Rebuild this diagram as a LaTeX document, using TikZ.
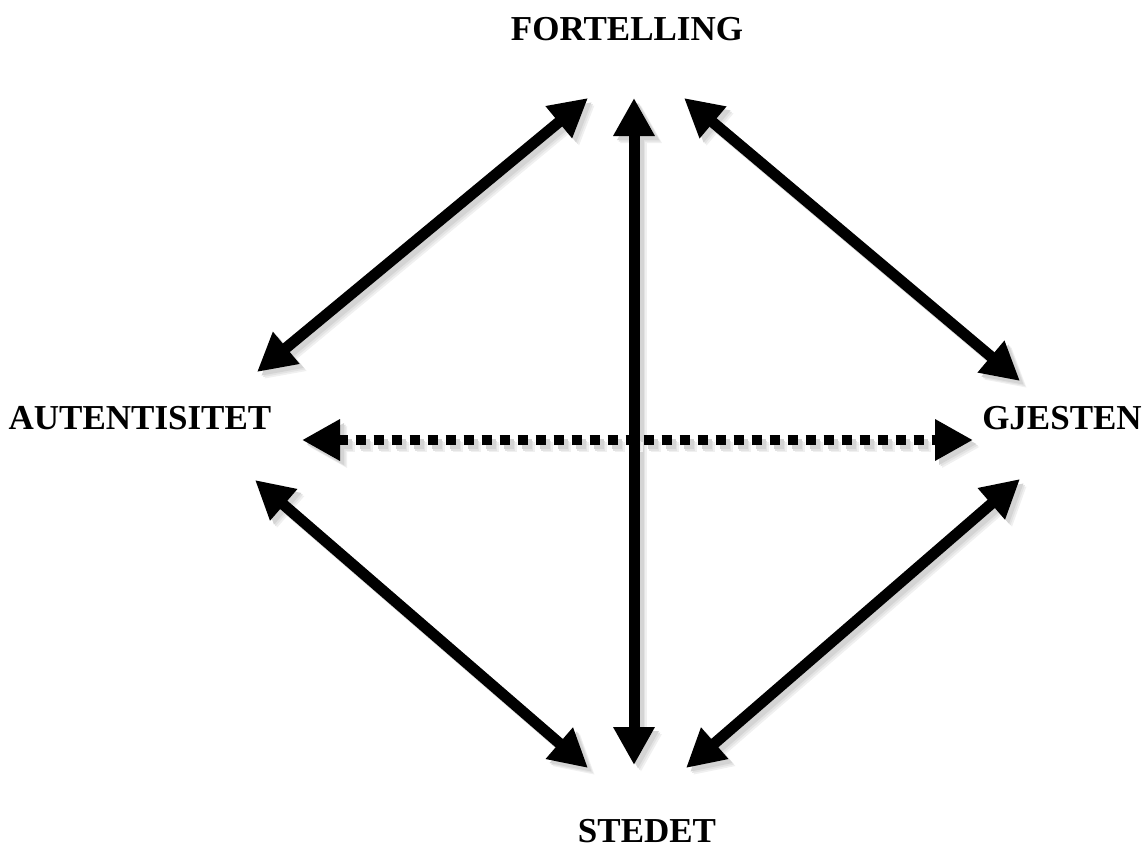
\documentclass[tikz,border=0pt]{standalone}
\usepackage{fontspec}
\setmainfont{Liberation Serif}
\usetikzlibrary{arrows.meta}
\tikzset{
  lbl/.style={font=\fontsize{35}{40}\selectfont\bfseries, inner sep=0pt},
  link/.style={line width=11pt, {Triangle[length=38pt,width=39pt]}-{Triangle[length=38pt,width=39pt]}},
  dotlink/.style={line width=10pt, dash pattern=on 10pt off 8pt,
    {Triangle[length=38pt,width=39pt]}-{Triangle[length=38pt,width=39pt]}},
}
% soft drop shadow under a connector: offset copies in graded greys
\newcommand\softshadow[3]{%
  \foreach \d/\g in {7/6,5.5/11,4/17}{%
    \draw[#1, draw=black!\g, fill=black!\g]
      ([xshift=\d pt, yshift=-\d pt]#2) -- ([xshift=\d pt, yshift=-\d pt]#3);}%
}
\begin{document}
\begin{tikzpicture}[x=1pt,y=-1pt]
\useasboundingbox (0,0) rectangle (1143,867);

% labels
\node[lbl] (fort) at (627,29) {FORTELLING};
\node[lbl] (aut)  at (140,418) {AUTENTISITET};
\node[lbl] (gje)  at (1062,418) {GJESTEN};
\node[lbl] (sted) at (647,831) {STEDET};

% arrow end points
\coordinate (tl) at (588,98);
\coordinate (tm) at (634,98);
\coordinate (tr) at (684,98);
\coordinate (lu) at (257,372);
\coordinate (ld) at (255,480);
\coordinate (ru) at (1020,381);
\coordinate (rd) at (1020,479);
\coordinate (bl) at (588,768);
\coordinate (bm) at (634,765);
\coordinate (br) at (686,768);
\coordinate (hl) at (302,440);
\coordinate (hr) at (973,440);

% shadows
\softshadow{link}{tl}{lu}
\softshadow{link}{tm}{bm}
\softshadow{link}{tr}{ru}
\softshadow{link}{ld}{bl}
\softshadow{link}{rd}{br}
\softshadow{dotlink}{hl}{hr}

% connectors
\draw[link] (tl) -- (lu);
\draw[link] (tm) -- (bm);
\draw[link] (tr) -- (ru);
\draw[link] (ld) -- (bl);
\draw[link] (rd) -- (br);
\draw[dotlink] (hl) -- (hr);
\end{tikzpicture}
\end{document}
